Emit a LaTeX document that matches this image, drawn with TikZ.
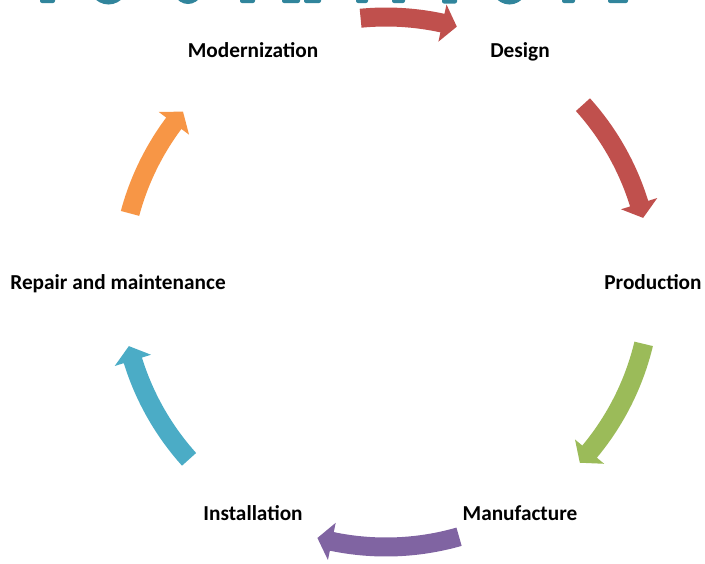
\documentclass[tikz,border=0pt]{standalone}
\usepackage{fontspec}
\setmainfont{Carlito}
\definecolor{cyred}{HTML}{C0504D}
\definecolor{cygreen}{HTML}{9BBB59}
\definecolor{cypurple}{HTML}{8064A2}
\definecolor{cyaqua}{HTML}{4BACC6}
\definecolor{cyorange}{HTML}{F79646}
\definecolor{cytitle}{HTML}{31859C}
\newcommand\cycarrow[3]{%
  \pgfmathsetmacro\cyaS{ifthenelse(#2>#1,1,-1)}%
  \pgfmathsetmacro\cyaB{#2-\cyaS*3.2}%
  \fill[#3] (#1:274.5) arc[start angle=#1, end angle=\cyaB, radius=274.5]
    -- (\cyaB:284) -- (#2:265) -- (\cyaB:246) -- (\cyaB:255.5)
    arc[start angle=\cyaB, end angle=#1, radius=255.5] -- cycle;}
\begin{document}
\begin{tikzpicture}[x=1pt,y=1pt,
  lbl/.style={font=\fontsize{21.3}{25}\selectfont\bfseries, inner sep=0pt, text=black},
  ttl/.style={fill=cytitle}]
\useasboundingbox (0,0) rectangle (705,-563);
\clip (0,0) rectangle (705,-563);
% partial title letters (cut at the top edge)
\foreach \a/\b/\c in {40/55/3, 240/255/3, 282/300/3, 304/321/3, 356/368/3, 392/405/3, 442/457/3.5, 562/575/3, 608/628/3}
  \fill[ttl, rounded corners=2] (\a,20) rectangle (\b,-\c);
\foreach \a/\b/\c in {85/132/4.5, 168/208/4, 487/532/4.5}
  \fill[ttl] ({(\a+\b)/2}, {30-\c}) ellipse [x radius={(\b-\a)/2}, y radius=30];
% cycle arrows
\begin{scope}[shift={(386,-282)}]
  \cycarrow{95.5}{74.5}{cyred}
  \cycarrow{42}{14}{cyred}
  \cycarrow{-13.5}{-43}{cygreen}
  \cycarrow{-74}{-105}{cypurple}
  \cycarrow{-138}{-166}{cyaqua}
  \cycarrow{165}{140}{cyorange}
\end{scope}
% labels
\node[lbl] (modern) at (253,-50) {Modernization};
\node[lbl] (design) at (520,-52) {Design};
\node[lbl] (prod) at (653,-282) {Production};
\node[lbl] (manuf) at (520,-513) {Manufacture};
\node[lbl] (install) at (253,-513) {Installation};
\node[lbl] (repair) at (118,-284) {Repair and maintenance};
\end{tikzpicture}
\end{document}
